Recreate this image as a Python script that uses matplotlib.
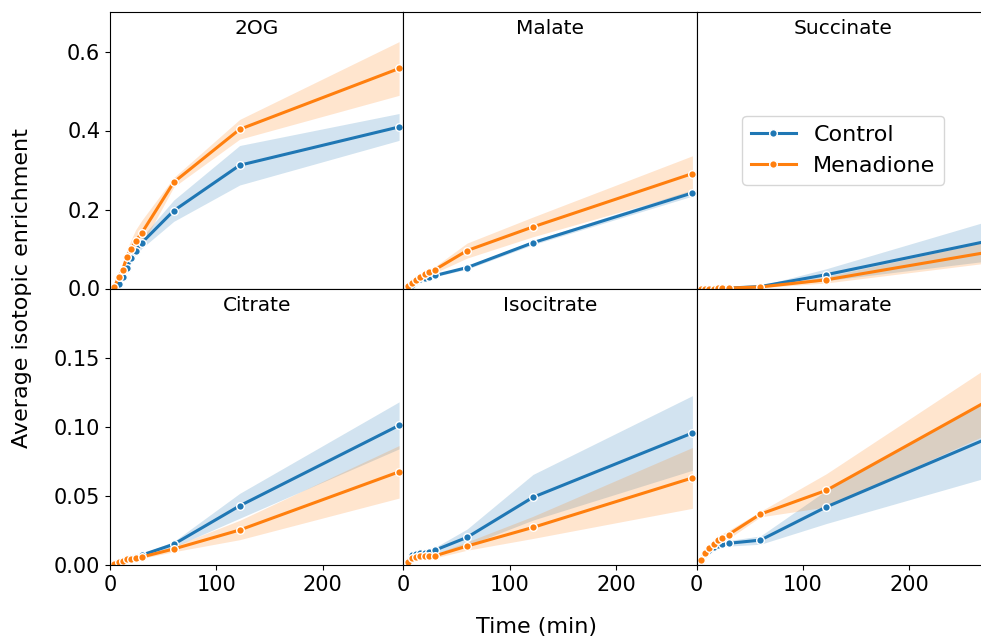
import numpy as np
import matplotlib
matplotlib.use("Agg")
import matplotlib.pyplot as plt

# time points (min)
times = [4, 8, 12, 16, 20, 24, 30, 60, 122, 272]

metabolites = ["2OG", "Malate", "Succinate", "Citrate", "Isocitrate", "Fumarate"]
conditions = ["Control", "Menadione"]

# mean enrichment per metabolite
control_mean = {
    "2OG":        [0.0, 0.012, 0.03, 0.052, 0.077, 0.095, 0.116, 0.197, 0.312, 0.409],
    "Malate":     [0.003, 0.01, 0.018, 0.024, 0.027, 0.030, 0.033, 0.053, 0.116, 0.242],
    "Succinate":  [0.0, 0.0, 0.0, 0.0, 0.0005, 0.001, 0.001, 0.005, 0.035, 0.119],
    "Citrate":    [0.0005, 0.002, 0.003, 0.004, 0.005, 0.006, 0.0072, 0.015, 0.0428, 0.101],
    "Isocitrate": [0.003, 0.0075, 0.008, 0.0085, 0.009, 0.0095, 0.0108, 0.020, 0.049, 0.0955],
    "Fumarate":   [0.003, 0.008, 0.011, 0.013, 0.0145, 0.0155, 0.0157, 0.018, 0.042, 0.091],
}
menadione_mean = {
    "2OG":        [0.003, 0.028, 0.048, 0.081, 0.10, 0.12, 0.141, 0.269, 0.403, 0.557],
    "Malate":     [0.006, 0.013, 0.022, 0.029, 0.037, 0.041, 0.048, 0.096, 0.156, 0.291],
    "Succinate":  [0.0, 0.0, 0.0, 0.0, 0.0005, 0.001, 0.001, 0.004, 0.022, 0.091],
    "Citrate":    [0.0005, 0.002, 0.003, 0.004, 0.0045, 0.005, 0.0058, 0.0116, 0.0253, 0.0674],
    "Isocitrate": [0.002, 0.005, 0.006, 0.0063, 0.0065, 0.0066, 0.0067, 0.0137, 0.0272, 0.063],
    "Fumarate":   [0.0036, 0.009, 0.012, 0.015, 0.018, 0.0197, 0.022, 0.0368, 0.054, 0.118],
}

# 95% CI half widths
control_err = {
    "2OG":        [0.002, 0.004, 0.006, 0.008, 0.01, 0.012, 0.014, 0.027, 0.05, 0.034],
    "Malate":     [0.001, 0.002, 0.002, 0.003, 0.003, 0.003, 0.003, 0.004, 0.005, 0.008],
    "Succinate":  [0.0, 0.0, 0.0, 0.0, 0.0005, 0.0005, 0.001, 0.002, 0.015, 0.05],
    "Citrate":    [0.0003, 0.0005, 0.0005, 0.0007, 0.0008, 0.001, 0.001, 0.002, 0.009, 0.017],
    "Isocitrate": [0.001, 0.0015, 0.0015, 0.0015, 0.0015, 0.0015, 0.002, 0.006, 0.0165, 0.027],
    "Fumarate":   [0.001, 0.002, 0.002, 0.002, 0.002, 0.002, 0.002, 0.003, 0.012, 0.028],
}
menadione_err = {
    "2OG":        [0.002, 0.006, 0.012, 0.018, 0.024, 0.028, 0.032, 0.012, 0.025, 0.068],
    "Malate":     [0.002, 0.003, 0.004, 0.005, 0.006, 0.007, 0.008, 0.019, 0.025, 0.045],
    "Succinate":  [0.0, 0.0, 0.0, 0.0, 0.0005, 0.0005, 0.001, 0.002, 0.008, 0.027],
    "Citrate":    [0.0003, 0.0005, 0.0005, 0.0007, 0.0008, 0.001, 0.001, 0.002, 0.007, 0.019],
    "Isocitrate": [0.001, 0.001, 0.001, 0.001, 0.001, 0.001, 0.0015, 0.003, 0.008, 0.022],
    "Fumarate":   [0.001, 0.002, 0.002, 0.002, 0.003, 0.003, 0.003, 0.002, 0.012, 0.024],
}

colors = ["#1f77b4", "#ff7f0e"]

fig, axes = plt.subplots(2, 3, figsize=(9.81, 6.40), dpi=100, sharex=True, sharey="row")
fig.subplots_adjust(left=110 / 981, right=990 / 981, top=1 - 12 / 640,
                    bottom=1 - 565 / 640, wspace=0, hspace=0)

for i, (ax, name) in enumerate(zip(axes.flat, metabolites)):
    for cond, means, errs, col in zip(conditions, [control_mean, menadione_mean],
                                      [control_err, menadione_err], colors):
        m = np.array(means[name])
        e = np.array(errs[name])
        ax.fill_between(times, m - e, m + e, color=col, alpha=0.2, linewidth=0)
        ax.plot(times, m, color=col, lw=2.2, marker="o", markersize=5.5,
                markeredgecolor="white", markeredgewidth=1, label=cond)
    ax.text(0.5, 0.94, name, transform=ax.transAxes, ha="center", va="center",
            fontsize=14.5)
    ax.tick_params(labelsize=15)
    # inner panels: no tick marks on shared edges
    if i % 3 != 0:
        ax.tick_params(axis="y", length=0)
    if i < 3:
        ax.tick_params(axis="x", length=0)

axes[0, 0].set_xlim(0, 276)
axes[0, 0].set_ylim(0, 0.7)
axes[0, 0].set_yticks([0.0, 0.2, 0.4, 0.6])
axes[1, 0].set_ylim(0, 0.2)
axes[1, 0].set_yticks([0.0, 0.05, 0.10, 0.15])
axes[1, 0].set_xticks([0, 100, 200])

axes[0, 2].legend(loc="center", fontsize=16)

fig.text(22 / 981, 1 - 288 / 640, "Average isotopic enrichment", rotation=90,
         ha="center", va="center", fontsize=16)
fig.text(536 / 981, 1 - 627 / 640, "Time (min)", ha="center", va="center",
         fontsize=16)

fig.savefig("out.png", dpi=100)
